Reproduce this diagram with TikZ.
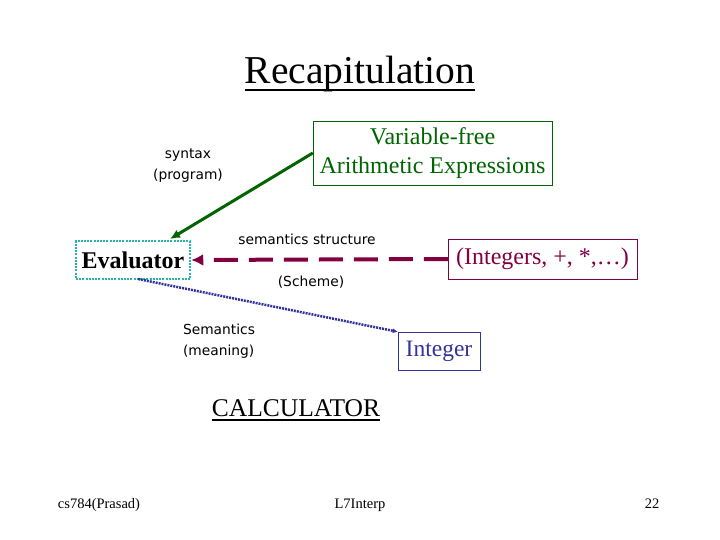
\documentclass[tikz,border=0pt]{standalone}
\usepackage{fontspec}
\setmainfont{Liberation Serif}
\setsansfont{DejaVu Sans}
\usepackage{xcolor}
\usetikzlibrary{positioning, arrows.meta}

\definecolor{darkgreen}{RGB}{0,100,0}
\definecolor{wine}{RGB}{128,0,64}
\definecolor{tealdot}{RGB}{40,180,170}
\definecolor{navy}{RGB}{51,51,153}

\tikzset{
	bigtext/.style={font=\fontsize{24}{29}\selectfont},
	smalllabel/.style={font=\sffamily\fontsize{13.8}{21}\selectfont, align=left},
	footer/.style={font=\fontsize{14.5}{16}\selectfont, anchor=base}
}

\begin{document}
\begin{tikzpicture}[x=1pt, y=-1pt]
		\useasboundingbox (0,0) rectangle (720,540);

		% Nodes
		\node (title) at (360,84) [anchor=base, inner sep=0pt, font=\fontsize{39.5}{42}\selectfont]{Recapitulation};
		\node (expr) at (432.5,153) [draw=darkgreen, text=darkgreen, bigtext, align=center, minimum width=239pt, minimum height=64pt, inner sep=1pt]{Variable-free\\Arithmetic Expressions};
		\node (eval) at (133,260) [draw=tealdot, line width=2.5pt, dash pattern=on 2pt off 1.2pt, font=\bfseries\fontsize{24}{28}\selectfont, minimum width=114pt, minimum height=38pt, inner sep=1pt]{Evaluator};
		\node (ints) at (542.5,259) [draw=wine, text=wine, bigtext, minimum width=189pt, minimum height=40pt, inner sep=1pt]{(Integers, +, *,\dots)};
		\node (int) at (439,351) [draw=navy, text=navy, font=\fontsize{23.5}{26}\selectfont, minimum width=82pt, minimum height=38pt, inner sep=1pt]{Integer};
		\node (calc) at (296,416) [anchor=base, inner sep=0pt, font=\fontsize{25.5}{28}\selectfont]{CALCULATOR};

		% Labels
		\node (syntax) at (188,166) [smalllabel, align=center]{syntax\\(program)};
		\node (semstr) at (307,239) [smalllabel]{semantics structure};
		\node (scheme) at (311,282) [smalllabel]{(Scheme)};
		\node (meaning) at (219,341) [smalllabel]{Semantics\\(meaning)};

		% Footer
		\node (author) at (99,508) [footer]{cs784(Prasad)};
		\node (lect) at (360,508) [footer]{L7Interp};
		\node (page) at (652,508) [footer]{22};

		% Underlines
		\draw[line width=2.5pt] ([yshift=-6pt]title.base west) -- ([yshift=-6pt]title.base east);
		\draw[line width=2pt] ([yshift=-4pt]calc.base west) -- ([yshift=-4pt]calc.base east);

		% Arrows
		\draw[darkgreen, line width=3pt, -{Latex[length=10pt, width=9pt]}] (expr.west) -- (170,239);
		\draw[wine, line width=4pt, dash pattern=on 24pt off 11pt, -{Latex[length=12pt, width=12pt]}] (ints.west) -- (eval.east);
		\draw[navy, line width=2.5pt, dash pattern=on 2pt off 1pt, -{Latex[length=5pt, width=5pt]}] (138,279) -- (int.north west);

	\end{tikzpicture}
\end{document}
